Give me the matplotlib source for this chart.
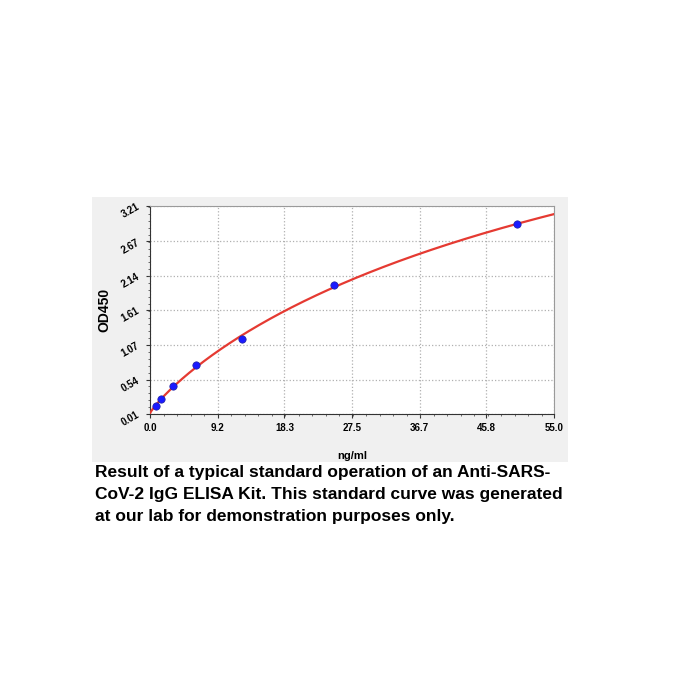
import matplotlib
matplotlib.use("Agg")
import matplotlib.pyplot as plt
import numpy as np
from matplotlib.ticker import AutoMinorLocator

# standard curve data
conc = [0.78, 1.56, 3.125, 6.25, 12.5, 25.0, 50.0]
od450 = [0.14, 0.235, 0.44, 0.76, 1.16, 1.99, 2.93]

x_ticks = [0.0, 9.2, 18.3, 27.5, 36.7, 45.8, 55.0]
y_ticks = [0.01, 0.54, 1.07, 1.61, 2.14, 2.67, 3.21]

caption = ("Result of a typical standard operation of an Anti-SARS-\n"
           "CoV-2 IgG ELISA Kit. This standard curve was generated\n"
           "at our lab for demonstration purposes only.")

plt.rcParams['font.family'] = ['Liberation Sans', 'DejaVu Sans']


def fit_4pl(x, y):
    # grid over slope b and midpoint c, linear least squares for a, d
    x = np.asarray(x, float)
    y = np.asarray(y, float)
    best = None
    for b in np.linspace(0.5, 2.5, 81):
        for c in np.linspace(5, 200, 391):
            g = 1.0 / (1.0 + (x / c) ** b)
            A = np.column_stack([np.ones_like(x), g])
            sol, *_ = np.linalg.lstsq(A, y, rcond=None)
            err = np.sum((A @ sol - y) ** 2)
            if best is None or err < best[0]:
                best = (err, b, c, sol)
    _, b, c, (d, k) = best
    return lambda t: d + k / (1.0 + (np.asarray(t) / c) ** b)


fig = plt.figure(figsize=(7, 7), dpi=100)

# light grey panel behind the chart
bg = fig.add_axes([92 / 700, 1 - 462 / 700, 476 / 700, 265 / 700], zorder=0)
bg.set_facecolor('#f0f0f0')
bg.set_xticks([])
bg.set_yticks([])
for s in bg.spines.values():
    s.set_visible(False)

ax = fig.add_axes([150 / 700, 1 - 414 / 700, 404 / 700, 208 / 700], zorder=1)
ax.set_facecolor('white')

curve = fit_4pl(conc, od450)
xs = np.linspace(0, 55, 300)
ax.plot(xs, curve(xs), color='#e53a32', lw=1.6, zorder=3)
ax.scatter(conc, od450, s=28, color='#1a1aff', edgecolor='#2020a0',
           linewidth=0.5, zorder=4)

ax.set_xlim(0, 55)
ax.set_ylim(0.01, 3.21)
ax.set_xticks(x_ticks)
ax.set_yticks(y_ticks)
ax.set_xticklabels([f"{v:.1f}" for v in x_ticks], fontsize=7, fontweight='bold')
ax.set_yticklabels([f"{v:.2f}" for v in y_ticks], fontsize=7, fontweight='bold',
                   rotation=30)
ax.xaxis.set_minor_locator(AutoMinorLocator(5))
ax.yaxis.set_minor_locator(AutoMinorLocator(5))
ax.tick_params(which='major', length=3, width=0.8, color='#333333')
ax.tick_params(which='minor', length=1.5, width=0.6, color='#555555')
ax.grid(True, which='major', linestyle=':', color='#b0b0b0', lw=0.9)

for side in ['top', 'right']:
    ax.spines[side].set_color('#9a9a9a')
for side in ['left', 'bottom']:
    ax.spines[side].set_color('#333333')

ax.set_ylabel("OD450", fontsize=10, fontweight='bold', labelpad=6)
ax.set_xlabel("ng/ml", fontsize=8, fontweight='bold', labelpad=13)

fig.text(95 / 700, 1 - 465 / 700, caption, fontsize=12.5, fontweight='bold',
         va='top', ha='left', linespacing=1.6)

fig.savefig("out.png", dpi=100)
